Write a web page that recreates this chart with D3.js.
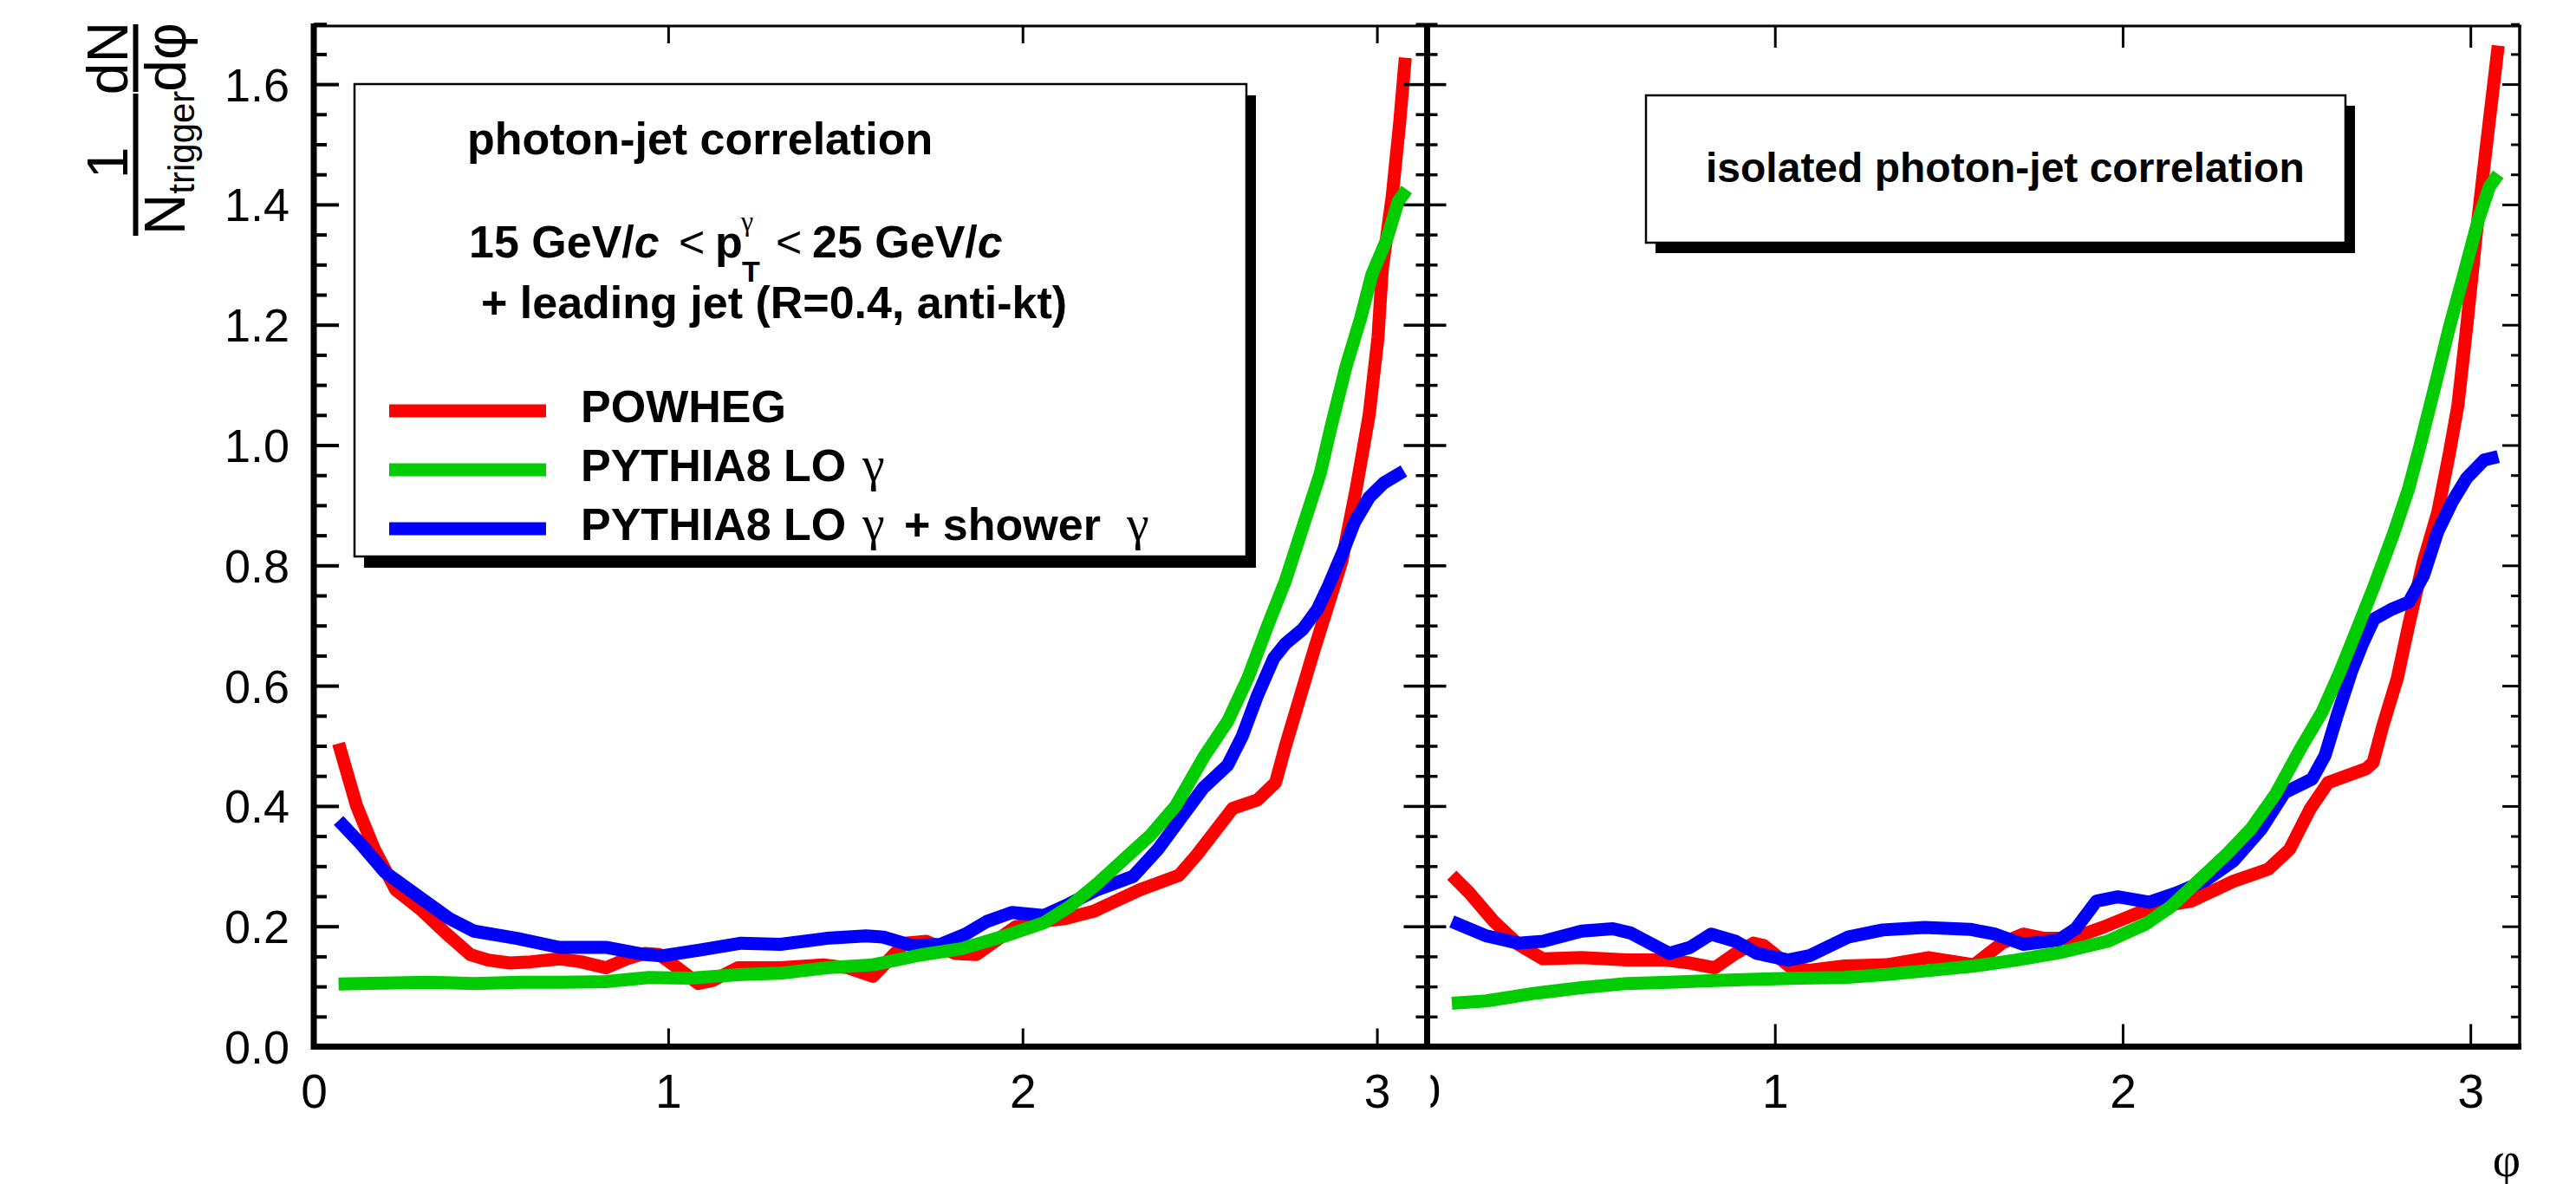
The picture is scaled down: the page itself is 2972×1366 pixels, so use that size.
<!DOCTYPE html>
<html>
<head>
<meta charset="utf-8">
<script src="https://cdn.jsdelivr.net/npm/d3@7"></script>
<style>
  body { margin: 0; background: #fff; }
  text { font-family: "Liberation Sans", Arial, Helvetica, sans-serif; }
</style>
</head>
<body>
<script>
// Canvas size
const width = 2972;
const height = 1366;

// Tick values
const phiTicks = [0, 1, 2, 3];
const yMajor = [0, 0.2, 0.4, 0.6, 0.8, 1.0, 1.2, 1.4, 1.6];
const yMinor = [0.05, 0.1, 0.15, 0.25, 0.3, 0.35, 0.45, 0.5, 0.55, 0.65, 0.7, 0.75,
  0.85, 0.9, 0.95, 1.05, 1.1, 1.15, 1.25, 1.3, 1.35, 1.45, 1.5, 1.55, 1.65, 1.7];

// Series names and colours
const seriesNames = ["POWHEG", "PYTHIA8 LO", "PYTHIA8 LO + shower"];
const seriesColors = ["#ff0000", "#00cc00", "#0000ff"];

// Left panel: photon-jet correlation  [phi, 1/N dN/dphi]
const leftPowheg = [[0.070,0.504],[0.121,0.400],[0.171,0.328],[0.231,0.261],[0.302,0.228],[0.372,0.189],
  [0.442,0.153],[0.492,0.144],[0.553,0.139],[0.613,0.141],[0.693,0.146],[0.754,0.141],[0.824,0.131],
  [0.884,0.146],[0.935,0.155],[0.975,0.153],[1.015,0.136],[1.085,0.105],[1.126,0.110],[1.196,0.131],
  [1.317,0.131],[1.437,0.136],[1.508,0.131],[1.578,0.117],[1.668,0.172],[1.729,0.175],[1.809,0.155],
  [1.869,0.153],[1.980,0.199],[2.050,0.208],[2.121,0.213],[2.201,0.225],[2.332,0.261],[2.442,0.285],
  [2.492,0.319],[2.593,0.396],[2.663,0.410],[2.714,0.439],[2.742,0.500],[2.824,0.662],[2.901,0.807],
  [2.942,0.929],[2.978,1.050],[3.003,1.179],[3.015,1.292],[3.043,1.413],[3.064,1.535],[3.080,1.644]];
const leftPythia = [[0.070,0.104],[0.322,0.107],[0.452,0.105],[0.583,0.107],[0.704,0.107],[0.824,0.108],
  [0.945,0.115],[1.065,0.114],[1.206,0.120],[1.317,0.122],[1.447,0.131],[1.578,0.136],[1.709,0.152],
  [1.829,0.163],[1.950,0.184],[2.060,0.206],[2.131,0.232],[2.211,0.271],[2.291,0.314],[2.362,0.352],
  [2.432,0.400],[2.514,0.484],[2.579,0.541],[2.636,0.613],[2.693,0.702],[2.742,0.775],[2.791,0.864],
  [2.840,0.953],[2.872,1.034],[2.913,1.131],[2.954,1.211],[2.986,1.284],[3.027,1.341],[3.060,1.405],
  [3.084,1.425]];
const leftShower = [[0.070,0.376],[0.131,0.338],[0.201,0.290],[0.302,0.247],[0.382,0.213],[0.452,0.192],
  [0.573,0.180],[0.693,0.165],[0.824,0.165],[0.935,0.153],[0.985,0.151],[1.085,0.160],[1.206,0.172],
  [1.317,0.170],[1.447,0.180],[1.558,0.184],[1.608,0.182],[1.688,0.168],[1.769,0.170],[1.839,0.187],
  [1.899,0.208],[1.970,0.223],[2.060,0.218],[2.131,0.237],[2.211,0.261],[2.312,0.283],[2.382,0.328],
  [2.442,0.376],[2.510,0.430],[2.579,0.468],[2.620,0.516],[2.661,0.581],[2.709,0.646],[2.742,0.670],
  [2.791,0.694],[2.832,0.727],[2.864,0.767],[2.905,0.824],[2.937,0.872],[2.978,0.913],[3.019,0.937],
  [3.076,0.957]];

// Right panel: isolated photon-jet correlation
const rightPowheg = [[0.071,0.285],[0.121,0.256],[0.192,0.208],[0.262,0.170],[0.333,0.146],[0.444,0.148],
  [0.575,0.144],[0.685,0.144],[0.756,0.139],[0.827,0.131],[0.887,0.155],[0.938,0.172],[0.968,0.168],
  [1.048,0.131],[1.099,0.127],[1.200,0.134],[1.321,0.136],[1.442,0.148],[1.573,0.136],[1.653,0.172],
  [1.714,0.187],[1.774,0.180],[1.855,0.180],[1.946,0.199],[2.077,0.230],[2.198,0.242],[2.319,0.275],
  [2.419,0.295],[2.480,0.328],[2.540,0.396],[2.591,0.439],[2.700,0.462],[2.720,0.472],[2.748,0.533],
  [2.790,0.613],[2.823,0.702],[2.865,0.807],[2.906,0.888],[2.939,0.985],[2.964,1.066],[2.989,1.195],
  [3.018,1.357],[3.047,1.503],[3.080,1.664]];
const rightPythia = [[0.071,0.072],[0.171,0.076],[0.302,0.088],[0.444,0.098],[0.575,0.105],[0.696,0.107],
  [0.827,0.110],[0.948,0.112],[1.069,0.114],[1.200,0.115],[1.321,0.120],[1.452,0.127],[1.573,0.134],
  [1.694,0.144],[1.825,0.157],[1.956,0.175],[2.067,0.204],[2.137,0.232],[2.218,0.276],[2.298,0.319],
  [2.369,0.362],[2.440,0.420],[2.508,0.492],[2.574,0.557],[2.624,0.622],[2.674,0.694],[2.724,0.767],
  [2.781,0.856],[2.823,0.929],[2.856,1.001],[2.898,1.098],[2.939,1.195],[2.981,1.284],[3.022,1.373],
  [3.055,1.430],[3.080,1.450]];
const rightShower = [[0.071,0.208],[0.171,0.184],[0.262,0.172],[0.333,0.175],[0.444,0.192],[0.534,0.196],
  [0.585,0.189],[0.696,0.155],[0.756,0.165],[0.817,0.187],[0.887,0.175],[0.948,0.155],[1.038,0.144],
  [1.099,0.151],[1.210,0.182],[1.310,0.194],[1.431,0.198],[1.562,0.195],[1.633,0.187],[1.714,0.170],
  [1.815,0.177],[1.865,0.196],[1.925,0.242],[1.986,0.249],[2.077,0.240],[2.157,0.256],[2.238,0.276],
  [2.319,0.309],[2.399,0.362],[2.465,0.422],[2.545,0.445],[2.582,0.484],[2.616,0.549],[2.657,0.622],
  [2.690,0.670],[2.723,0.711],[2.773,0.727],[2.823,0.739],[2.865,0.783],[2.906,0.856],[2.947,0.905],
  [2.989,0.945],[3.039,0.975],[3.080,0.981]];

// Layout
const plotTop = 29, plotBottom = 1207.5;
const xLeft0 = 362, xMid = 1646.5, xRight1 = 2907;

const svg = d3.select("body").append("svg")
  .attr("width", width)
  .attr("height", height)
  .style("display", "block");

svg.append("rect").attr("width", width).attr("height", height).attr("fill", "#fff");

const y = d3.scaleLinear().domain([0, 1.7]).range([plotBottom, 27.7]);
const xL = d3.scaleLinear().domain([0, Math.PI]).range([xLeft0, xMid]);
const xR = d3.scaleLinear().domain([0, Math.PI]).range([xMid, xRight1]);

// clip areas for the curves
const defs = svg.append("defs");
defs.append("clipPath").attr("id", "clipL").append("rect")
  .attr("x", xLeft0).attr("y", plotTop).attr("width", xMid - xLeft0).attr("height", plotBottom - plotTop);
defs.append("clipPath").attr("id", "clipR").append("rect")
  .attr("x", xMid).attr("y", plotTop).attr("width", xRight1 - xMid).attr("height", plotBottom - plotTop);
// the "0" label of the right pad is mostly hidden by the left pad (tick-local coords)
defs.append("clipPath").attr("id", "clipZeroLocal").append("rect")
  .attr("x", 3.5).attr("y", 0).attr("width", 60).attr("height", 120);

// helper to style an axis group
function styleAxis(g, sw) {
  g.select(".domain").remove();
  g.selectAll(".tick line").attr("stroke", "#000").attr("stroke-width", sw);
  g.selectAll(".tick text").attr("fill", "#000")
    .style("font-family", "'Liberation Sans', Arial, sans-serif");
  return g;
}

// ---- curves
function drawCurves(xs, clipId, sets) {
  const line = d3.line().x(d => xs(d[0])).y(d => y(d[1]));
  const g = svg.append("g").attr("clip-path", `url(#${clipId})`);
  // draw order red, blue, green (green sits on top)
  [0, 2, 1].forEach(i => {
    g.append("path")
      .attr("d", line(sets[i]))
      .attr("fill", "none")
      .attr("stroke", seriesColors[i])
      .attr("stroke-width", 15)
      .attr("stroke-linejoin", "round")
      .attr("stroke-linecap", "butt");
  });
}
drawCurves(xL, "clipL", [leftPowheg, leftPythia, leftShower]);
drawCurves(xR, "clipR", [rightPowheg, rightPythia, rightShower]);

// ---- y axes
// left panel, left side (labels)
styleAxis(svg.append("g").attr("transform", `translate(${xLeft0},0)`)
  .call(d3.axisLeft(y).tickValues(yMajor).tickSize(-29).tickPadding(28).tickFormat(d3.format(".1f"))), 4)
  .selectAll("text").style("font-size", "54px").attr("dy", "0.35em");
styleAxis(svg.append("g").attr("transform", `translate(${xLeft0},0)`)
  .call(d3.axisLeft(y).tickValues(yMinor).tickSize(-15).tickFormat("")), 4);
// left panel, right side
styleAxis(svg.append("g").attr("transform", `translate(${xMid},0)`)
  .call(d3.axisRight(y).tickValues(yMajor).tickSize(-27).tickFormat("")), 3.5);
styleAxis(svg.append("g").attr("transform", `translate(${xMid},0)`)
  .call(d3.axisRight(y).tickValues(yMinor).tickSize(-13).tickFormat("")), 3.5);
// right panel, left side
styleAxis(svg.append("g").attr("transform", `translate(${xMid},0)`)
  .call(d3.axisLeft(y).tickValues(yMajor).tickSize(-22).tickFormat("")), 3.5);
styleAxis(svg.append("g").attr("transform", `translate(${xMid},0)`)
  .call(d3.axisLeft(y).tickValues(yMinor).tickSize(-12).tickFormat("")), 3.5);
// right panel, right side
styleAxis(svg.append("g").attr("transform", `translate(${xRight1},0)`)
  .call(d3.axisRight(y).tickValues(yMajor).tickSize(-20).tickFormat("")), 3);
styleAxis(svg.append("g").attr("transform", `translate(${xRight1},0)`)
  .call(d3.axisRight(y).tickValues(yMinor).tickSize(-10).tickFormat("")), 3);

// ---- x axes
styleAxis(svg.append("g").attr("transform", `translate(0,${plotBottom})`)
  .call(d3.axisBottom(xL).tickValues(phiTicks).tickSize(-21).tickPadding(31).tickFormat(d3.format("d"))), 3)
  .selectAll("text").style("font-size", "55px");
styleAxis(svg.append("g").attr("transform", `translate(0,${plotTop + 1})`)
  .call(d3.axisTop(xL).tickValues(phiTicks).tickSize(-20).tickFormat("")), 3);

const xrAxis = styleAxis(svg.append("g").attr("transform", `translate(0,${plotBottom})`)
  .call(d3.axisBottom(xR).tickValues(phiTicks).tickSize(-26).tickPadding(31).tickFormat(d3.format("d"))), 3);
xrAxis.selectAll("text").style("font-size", "55px");
const zeroTick = xrAxis.selectAll(".tick").filter(d => d === 0);
zeroTick.select("line").remove();
zeroTick.select("text").attr("clip-path", "url(#clipZeroLocal)");
styleAxis(svg.append("g").attr("transform", `translate(0,${plotTop + 1})`)
  .call(d3.axisTop(xR).tickValues(phiTicks.slice(1)).tickSize(-25).tickFormat("")), 3);

// ---- frame lines
const frame = svg.append("g").attr("stroke", "#000");
frame.append("line").attr("x1", xLeft0).attr("x2", xLeft0).attr("y1", 27).attr("y2", 1211).attr("stroke-width", 7);
frame.append("line").attr("x1", xMid).attr("x2", xMid).attr("y1", 27).attr("y2", 1211).attr("stroke-width", 7);
frame.append("line").attr("x1", 359).attr("x2", 2909).attr("y1", plotBottom).attr("y2", plotBottom).attr("stroke-width", 7);
frame.append("line").attr("x1", xLeft0).attr("x2", 2909).attr("y1", 30).attr("y2", 30).attr("stroke-width", 3);
frame.append("line").attr("x1", xRight1).attr("x2", xRight1).attr("y1", 29).attr("y2", 1208).attr("stroke-width", 3.5);

// ---- axis titles
const yt = svg.append("g").attr("fill", "#000");
function rotText(x, yy, str, size) {
  return yt.append("text")
    .attr("transform", `translate(${x},${yy}) rotate(-90)`)
    .attr("text-anchor", "middle")
    .style("font-size", size + "px")
    .text(str);
}
rotText(147, 67, "dN", 66);
rotText(147, 188, "1", 66);
rotText(214, 66, "dφ", 66);
const nt = yt.append("text")
  .attr("transform", "translate(213,188) rotate(-90)")
  .attr("text-anchor", "middle")
  .style("font-size", "66px");
nt.append("tspan").text("N");
nt.append("tspan").attr("dy", 11).style("font-size", "42px").text("trigger");
yt.append("rect").attr("x", 153.5).attr("y", 28).attr("width", 6).attr("height", 78);
yt.append("rect").attr("x", 153.5).attr("y", 108).attr("width", 6).attr("height", 164);

svg.append("text")
  .attr("x", 2908).attr("y", 1357)
  .attr("text-anchor", "end")
  .style("font-family", "'Liberation Serif', 'DejaVu Serif', serif")
  .style("font-size", "56px")
  .text("φ");

// ---- text boxes
function shadowBox(x, yy, w, h, dx, dy) {
  svg.append("rect").attr("x", x + dx).attr("y", yy + dy).attr("width", w).attr("height", h).attr("fill", "#000");
  svg.append("rect").attr("x", x).attr("y", yy).attr("width", w).attr("height", h)
    .attr("fill", "#fff").attr("stroke", "#000").attr("stroke-width", 2.5);
}
shadowBox(409, 97, 1029, 545, 11, 13);
shadowBox(1899, 110, 807, 170, 11, 12);

function label(x, yy, str, opts = {}) {
  return svg.append("text")
    .attr("x", x).attr("y", yy)
    .style("font-size", (opts.size || 52) + "px")
    .style("font-weight", opts.weight || "bold")
    .style("font-style", opts.italic ? "italic" : "normal")
    .style("font-family", opts.serif ? "'Liberation Serif', 'DejaVu Serif', serif" : "'Liberation Sans', Arial, sans-serif")
    .attr("fill", "#000")
    .text(str);
}

label(539, 178, "photon-jet correlation");
const l2 = label(541, 297, "15 GeV/");
l2.append("tspan").style("font-style", "italic").text("c");
label(783, 297, "<", { weight: "normal" });
label(825, 297, "p");
label(856, 325, "T", { size: 34 });
label(855, 266, "γ", { size: 32, serif: true, weight: "normal" });
label(895, 297, "<", { weight: "normal" });
const l3 = label(937, 297, "25 GeV/");
l3.append("tspan").style("font-style", "italic").text("c");
label(555, 367, "+ leading jet (R=0.4, anti-kt)");

// legend entries
const legendY = [474, 542, 610];
seriesNames.forEach((name, i) => {
  svg.append("line")
    .attr("x1", 449).attr("x2", 630)
    .attr("y1", legendY[i]).attr("y2", legendY[i])
    .attr("stroke", seriesColors[i]).attr("stroke-width", 15);
});
label(670, legendY[0] + 13, "POWHEG");
label(670, legendY[1] + 13, "PYTHIA8 LO");
label(995, legendY[1] + 13, "γ", { serif: true, weight: "normal", size: 58 });
label(670, legendY[2] + 13, "PYTHIA8 LO");
label(995, legendY[2] + 13, "γ", { serif: true, weight: "normal", size: 58 });
label(1043, legendY[2] + 13, "+ shower");
label(1300, legendY[2] + 13, "γ", { serif: true, weight: "normal", size: 58 });

label(1968, 210, "isolated photon-jet correlation", { size: 48 });
</script>
</body>
</html>
